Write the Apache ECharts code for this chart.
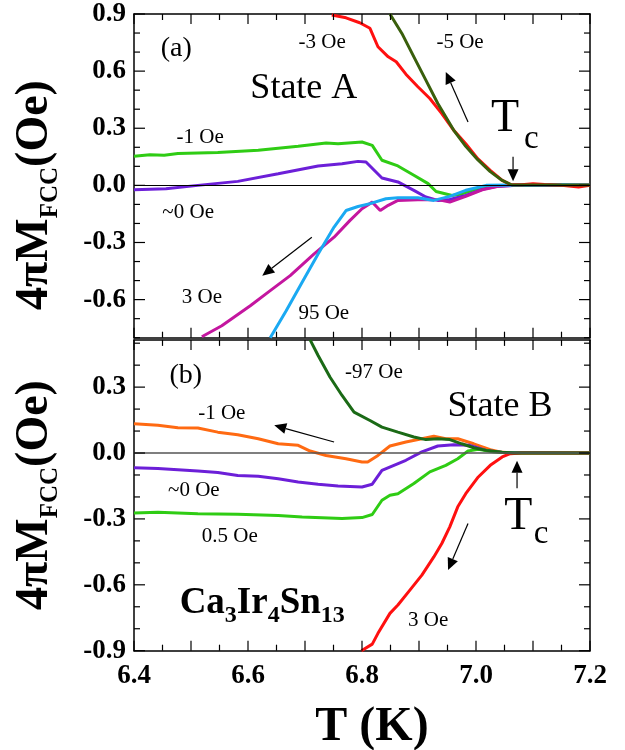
<!DOCTYPE html>
<html><head><meta charset="utf-8">
<script src="https://cdn.jsdelivr.net/npm/echarts@6/dist/echarts.min.js"></script>
<style>html,body{margin:0;padding:0;background:#fff}#c{width:625px;height:750px}</style>
</head><body><div id="c"></div>
<script>
// ---------- data ----------
const xTickLabels = ['6.4', '6.6', '6.8', '7.0', '7.2'];
const yMajorA = [-0.6, -0.3, 0.0, 0.3, 0.6, 0.9];
const yMajorB = [-0.9, -0.6, -0.3, 0.0, 0.3];

// Panel (a): State A
const a_minus3 = [[6.747,0.895],[6.772,0.88],[6.796,0.854],[6.814,0.825],[6.828,0.728],[6.846,0.675],[6.86,0.649],[6.877,0.584],[6.898,0.518],[6.919,0.456],[6.94,0.377],[6.961,0.289],[6.982,0.219],[7.003,0.14],[7.025,0.079],[7.046,0.026],[7.06,0.005],[7.08,0.003],[7.1,0.008],[7.12,0.004],[7.15,0.0],[7.18,-0.008],[7.2,0.0]];
const a_minus5 = [[6.849,0.9],[6.87,0.798],[6.891,0.675],[6.912,0.553],[6.933,0.43],[6.961,0.289],[6.982,0.205],[7.003,0.135],[7.025,0.072],[7.046,0.026],[7.063,0.002],[7.1,0.002],[7.15,0.002],[7.2,0.002]];
const a_minus1 = [[6.4,0.153],[6.428,0.161],[6.453,0.158],[6.477,0.167],[6.547,0.172],[6.618,0.184],[6.688,0.205],[6.737,0.223],[6.758,0.219],[6.8,0.228],[6.818,0.21],[6.835,0.132],[6.863,0.102],[6.891,0.053],[6.916,0.009],[6.93,-0.032],[6.958,-0.053],[6.975,-0.045],[7.0,-0.02],[7.03,-0.005],[7.06,0.0],[7.1,0.0],[7.2,0.0]];
const a_zero = [[6.4,-0.023],[6.456,-0.018],[6.512,0.0],[6.582,0.021],[6.653,0.061],[6.723,0.102],[6.765,0.114],[6.793,0.126],[6.807,0.123],[6.835,0.039],[6.863,0.018],[6.891,-0.026],[6.912,-0.061],[6.933,-0.079],[6.954,-0.074],[6.982,-0.053],[7.011,-0.021],[7.039,-0.004],[7.074,0.0],[7.2,0.0]];
const a_plus3 = [[6.519,-0.795],[6.554,-0.737],[6.604,-0.632],[6.639,-0.553],[6.674,-0.474],[6.716,-0.36],[6.751,-0.272],[6.779,-0.184],[6.8,-0.123],[6.818,-0.088],[6.832,-0.132],[6.846,-0.105],[6.863,-0.079],[6.898,-0.075],[6.933,-0.075],[6.954,-0.088],[6.982,-0.058],[7.011,-0.023],[7.039,-0.005],[7.07,0.0],[7.2,0.0]];
const a_plus95 = [[6.639,-0.8],[6.667,-0.658],[6.695,-0.509],[6.723,-0.36],[6.751,-0.219],[6.772,-0.132],[6.793,-0.111],[6.814,-0.096],[6.842,-0.07],[6.863,-0.065],[6.898,-0.065],[6.926,-0.079],[6.954,-0.058],[6.982,-0.026],[7.018,0.0],[7.06,0.002],[7.1,0.0],[7.15,0.003],[7.2,0.0]];

// Panel (b): State B
const b_minus97 = [[6.709,0.515],[6.723,0.444],[6.744,0.345],[6.765,0.262],[6.786,0.186],[6.814,0.148],[6.835,0.118],[6.863,0.095],[6.891,0.073],[6.912,0.061],[6.933,0.065],[6.954,0.061],[6.975,0.042],[6.996,0.024],[7.018,0.012],[7.046,0.003],[7.067,0.0],[7.2,0.0]];
const b_minus1 = [[6.4,0.133],[6.442,0.126],[6.477,0.115],[6.512,0.114],[6.547,0.095],[6.582,0.083],[6.618,0.065],[6.653,0.042],[6.688,0.035],[6.709,0.009],[6.737,-0.011],[6.772,-0.026],[6.8,-0.041],[6.81,-0.041],[6.828,-0.011],[6.849,0.032],[6.877,0.05],[6.905,0.065],[6.926,0.076],[6.947,0.065],[6.968,0.065],[6.996,0.042],[7.025,0.015],[7.046,0.003],[7.07,0.0],[7.2,0.0]];
const b_zero = [[6.4,-0.067],[6.442,-0.071],[6.477,-0.076],[6.512,-0.082],[6.547,-0.089],[6.582,-0.102],[6.618,-0.106],[6.653,-0.117],[6.688,-0.132],[6.723,-0.142],[6.758,-0.15],[6.8,-0.155],[6.818,-0.142],[6.835,-0.079],[6.856,-0.056],[6.877,-0.033],[6.905,0.005],[6.933,0.032],[6.961,0.038],[6.989,0.035],[7.018,0.012],[7.046,0.002],[7.1,0.002],[7.2,0.0]];
const b_plus05 = [[6.4,-0.273],[6.442,-0.27],[6.512,-0.276],[6.582,-0.279],[6.653,-0.285],[6.695,-0.291],[6.765,-0.298],[6.8,-0.294],[6.818,-0.28],[6.835,-0.215],[6.849,-0.192],[6.863,-0.185],[6.891,-0.139],[6.919,-0.086],[6.947,-0.056],[6.968,-0.026],[6.986,0.009],[7.004,0.017],[7.032,0.005],[7.06,0.0],[7.2,0.0]];
const b_plus3 = [[6.799,-0.9],[6.818,-0.87],[6.828,-0.821],[6.849,-0.73],[6.863,-0.692],[6.884,-0.624],[6.905,-0.556],[6.926,-0.473],[6.94,-0.412],[6.954,-0.336],[6.968,-0.245],[6.982,-0.185],[7.004,-0.109],[7.025,-0.056],[7.046,-0.018],[7.06,-0.003],[7.08,0.0],[7.2,0.0]];

// ---------- chart ----------
const FONT = '"Liberation Serif", "Times New Roman", serif';
const X_MIN = 6.4, X_MAX = 7.2;
const RANGE_A = [-0.8, 0.9], RANGE_B = [-0.9, 0.515];
const lineBlack = () => ({color: '#000', width: 1.5});

function xAx(grid, pos) {
  return {
    type: 'value', gridIndex: grid, position: pos, min: X_MIN, max: X_MAX, interval: 0.1,
    axisLine: {show: true, onZero: false, lineStyle: lineBlack()},
    axisTick: {show: false}, minorTick: {show: false}, splitLine: {show: false},
    axisLabel: {show: false}
  };
}
function yAx(grid, range, majors, pos, labels) {
  const fmt = v => {
    const r = Math.round(v * 10) / 10;
    return majors.some(m => Math.abs(m - r) < 1e-6) ? (Math.abs(r) < 1e-9 ? '0.0' : r.toFixed(1)) : '';
  };
  return {
    type: 'value', gridIndex: grid, position: pos, min: range[0], max: range[1], interval: 0.1,
    axisLine: {show: true, onZero: false, lineStyle: lineBlack()},
    axisTick: {show: false}, splitLine: {show: false},
    axisLabel: {show: labels, margin: 8, color: '#000', fontFamily: FONT, fontWeight: 'bold', fontSize: 27, formatter: fmt}
  };
}
function ser(data, color, xi, yi, extra) {
  return Object.assign({
    type: 'line', data: data, xAxisIndex: xi, yAxisIndex: yi,
    symbol: 'none', showSymbol: false, smooth: false, clip: true,
    lineStyle: {color: color, width: 3}, itemStyle: {color: color}, animation: false
  }, extra || {});
}
const zeroLine = (color, w) => ({
  silent: true, symbol: 'none', label: {show: false}, animation: false,
  lineStyle: {color: color, width: w, type: 'solid'}, data: [{yAxis: 0}]
});

const chart = echarts.init(document.getElementById('c'), null, {renderer: 'canvas'});
chart.setOption({
  animation: false,
  backgroundColor: '#fff',
  grid: [
    {left: 134, right: 35, top: 14, height: 323.7},
    {left: 134, right: 35, top: 339.9, height: 310.8}
  ],
  xAxis: [xAx(0, 'bottom'), xAx(0, 'top'), xAx(1, 'bottom'), xAx(1, 'top')],
  yAxis: [yAx(0, RANGE_A, yMajorA, 'left', true), yAx(0, RANGE_A, yMajorA, 'right', false),
          yAx(1, RANGE_B, yMajorB, 'left', true), yAx(1, RANGE_B, yMajorB, 'right', false)],
  series: [
    ser(a_minus1, '#2fcc14', 0, 0, {markLine: zeroLine('#000', 1)}),
    ser(a_zero, '#6c1fd8', 0, 0),
    ser(a_plus3, '#c4169f', 0, 0),
    ser(a_plus95, '#1aa9f2', 0, 0),
    ser(a_minus3, '#ff1010', 0, 0),
    ser(a_minus5, '#3a5f0c', 0, 0),
    ser(b_minus1, '#ff6a12', 2, 2, {markLine: zeroLine('#555', 1.5)}),
    ser(b_zero, '#6c1fd8', 2, 2),
    ser(b_plus05, '#2fcc14', 2, 2),
    ser(b_plus3, '#ff1010', 2, 2),
    ser(b_minus97, '#1b6a16', 2, 2)
  ]
});

// ---------- ticks, tick labels and annotations, positioned through the chart's own scales ----------
const zr = chart.getZr();
const mctx = document.createElement('canvas').getContext('2d');
function tw(text, size, weight) { mctx.font = (weight || 'normal') + ' ' + size + 'px ' + FONT; return mctx.measureText(text).width; }
function px(g, p) { return chart.convertToPixel(g === 0 ? {xAxisIndex: 0, yAxisIndex: 0} : {xAxisIndex: 2, yAxisIndex: 2}, p); }

function seg(x1, y1, x2, y2, w) {
  zr.add(new echarts.graphic.Line({z: 50, shape: {x1: x1, y1: y1, x2: x2, y2: y2}, style: {stroke: '#000', lineWidth: w || 1.2}}));
}
function txt(x, y, text, size, weight, rot) {
  zr.add(new echarts.graphic.Text({x: x, y: y, rotation: rot || 0, z: 100,
    style: {text: text, fill: '#000', font: (weight || 'normal') + ' ' + size + 'px ' + FONT, align: 'center', verticalAlign: 'middle'}}));
}

// inward ticks on all four sides of each panel
function panelTicks(g, range) {
  const top = px(g, [X_MIN, range[1]])[1], bottom = px(g, [X_MIN, range[0]])[1];
  const left = px(g, [X_MIN, 0])[0], right = px(g, [X_MAX, 0])[0];
  for (let i = 0; i <= 16; i++) {
    const T = X_MIN + i * 0.05;
    const x = px(g, [T, 0])[0];
    const len = i % 2 === 0 ? 10 : 6;
    seg(x, bottom, x, bottom - len);
    seg(x, top, x, top + len);
  }
  const k0 = Math.ceil(range[0] * 10 - 1e-6), k1 = Math.floor(range[1] * 10 + 1e-6);
  for (let k = k0; k <= k1; k++) {
    const y = px(g, [X_MIN, k / 10])[1];
    const len = k % 3 === 0 ? 11 : 6;
    seg(left, y, left + len, y);
    seg(right, y, right - len, y);
  }
}
panelTicks(0, RANGE_A);
panelTicks(1, RANGE_B);

// x tick labels under the bottom panel
xTickLabels.forEach(s => {
  const p = px(1, [parseFloat(s), RANGE_B[0]]);
  txt(p[0], p[1] + 25.5, s, 27, 'bold');
});

function label(g, text, T, v, size, weight) { const p = px(g, [T, v]); txt(p[0], p[1], text, size, weight); }
// pieces: [text, size, subShift]
function row(pieces, cx, cy, weight, rotated) {
  const mainSize = pieces[0][1];
  const ws = pieces.map(p => tw(p[0], p[1], weight));
  const total = ws.reduce((a, b) => a + b, 0);
  let acc = 0;
  pieces.forEach((p, i) => {
    const mid = acc + ws[i] / 2; acc += ws[i];
    const perp = p[2] ? (0.34 * mainSize - 0.34 * p[1] + p[2]) : 0;
    if (rotated) txt(cx + perp, cy + total / 2 - mid, p[0], p[1], weight, Math.PI / 2);
    else txt(cx - total / 2 + mid, cy + perp, p[0], p[1], weight);
  });
}
function arrow(g, from, to) {
  const a = px(g, from), b = px(g, to);
  const dx = b[0] - a[0], dy = b[1] - a[1], L = Math.hypot(dx, dy);
  const ux = dx / L, uy = dy / L, hl = 12, hw = 5.5;
  const bx = b[0] - ux * hl, by = b[1] - uy * hl;
  seg(a[0], a[1], bx, by, 1.2);
  zr.add(new echarts.graphic.Polygon({z: 100, shape: {points: [[b[0], b[1]], [bx - uy * hw, by + ux * hw], [bx + uy * hw, by - ux * hw]]}, style: {fill: '#000'}}));
}

// panel (a)
label(0, '(a)', 6.474, 0.719, 28);
label(0, '-3 Oe', 6.73, 0.749, 21);
label(0, '-5 Oe', 6.972, 0.749, 21);
label(0, 'State A', 6.698, 0.509, 36);
label(0, '-1 Oe', 6.516, 0.254, 21);
label(0, '~0 Oe', 6.495, -0.14, 21);
label(0, '3 Oe', 6.519, -0.588, 21);
label(0, '95 Oe', 6.733, -0.675, 21);
label(0, 'T', 7.051, 0.347, 46);
label(0, 'c', 7.097, 0.24, 33);
arrow(0, [7.065, 0.15], [7.065, 0.022]);
arrow(0, [6.986, 0.333], [6.947, 0.596]);
arrow(0, [6.712, -0.272], [6.625, -0.474]);

// panel (b)
label(1, '(b)', 6.491, 0.353, 28);
label(1, '-97 Oe', 6.821, 0.368, 21);
label(1, 'State B', 7.042, 0.212, 36);
label(1, '-1 Oe', 6.554, 0.182, 21);
label(1, '~0 Oe', 6.505, -0.17, 21);
label(1, '0.5 Oe', 6.568, -0.382, 21);
label(1, '3 Oe', 6.916, -0.761, 21);
label(1, 'T', 7.074, -0.291, 46);
label(1, 'c', 7.114, -0.37, 33);
arrow(1, [7.072, -0.16], [7.072, -0.035]);
arrow(1, [6.751, 0.05], [6.646, 0.126]);
arrow(1, [6.986, -0.321], [6.951, -0.533]);
(function () {
  const p = px(1, [6.625, -0.685]);
  row([['Ca', 37], ['3', 24, 8], ['Ir', 37], ['4', 24, 8], ['Sn', 37], ['13', 24, 8]], p[0], p[1], 'bold', false);
})();

// axis titles
row([['4πM', 46], ['FCC', 25, 8], ['(Oe)', 46]], 35, 195, 'bold', true);
row([['4πM', 46], ['FCC', 25, 8], ['(Oe)', 46]], 35, 495, 'bold', true);
txt(372, 728, 'T (K)', 48, 'bold');
</script>
</body></html>
